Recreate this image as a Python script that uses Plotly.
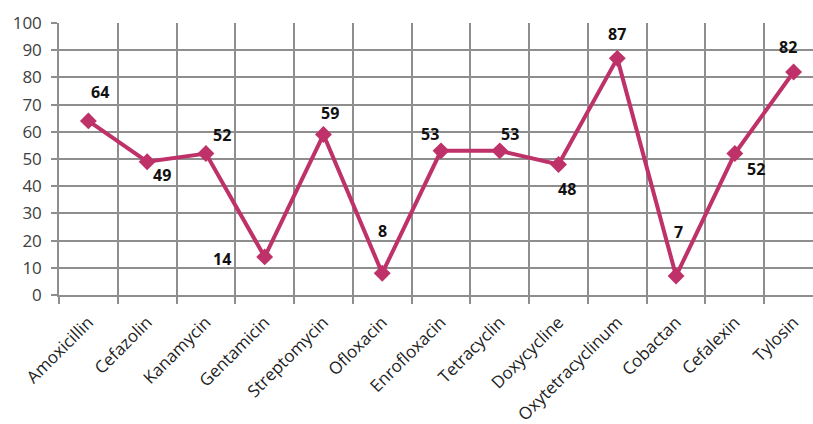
import plotly.graph_objects as go

# Antibiotic names and values (%)
drugs = ["Amoxicillin", "Cefazolin", "Kanamycin", "Gentamicin", "Streptomycin",
         "Ofloxacin", "Enrofloxacin", "Tetracyclin", "Doxycycline",
         "Oxytetracyclinum", "Cobactan", "Cefalexin", "Tylosin"]
values = [64, 49, 52, 14, 59, 8, 53, 53, 48, 87, 7, 52, 82]

# Pixel offsets for each value label relative to its marker
label_dx = [12, 15, 16, -43, 7, 0, -11, 10, 8, 0, 2, 21, -6]
label_dy = [29, -13, 19, -2, 22, 42, 17, 17, -25, 24, 44, -15, 25]

y_ticks = list(range(0, 101, 10))

line_color = "#BE3169"
grid_color = "#8E8E8E"
text_color = "#404040"

fig = go.Figure()
fig.add_trace(go.Scatter(
    x=drugs, y=values, mode="lines+markers",
    line=dict(color=line_color, width=4),
    marker=dict(symbol="diamond", size=13, color=line_color),
    hoverinfo="x+y", showlegend=False,
))

for name, v, dx, dy in zip(drugs, values, label_dx, label_dy):
    fig.add_annotation(
        x=name, y=v, text=f"<b>{v}</b>", showarrow=False,
        xshift=dx, yshift=dy,
        font=dict(family="Open Sans", size=16, color="#111111"),
    )

fig.update_xaxes(
    type="category", categoryorder="array", categoryarray=drugs,
    range=[-0.5, 12.33], tickson="boundaries",
    showgrid=True, gridcolor=grid_color, gridwidth=1.5,
    showline=True, linecolor=grid_color, linewidth=1.5,
    ticks="outside", ticklen=7, tickcolor=grid_color, tickwidth=1.5,
    ticklabelstandoff=9,
    tickangle=-45, tickfont=dict(family="Open Sans", size=17, color="#222222"),
    fixedrange=True,
)
fig.update_yaxes(
    range=[0, 100], tickvals=y_ticks, ticktext=[str(t) for t in y_ticks],
    showgrid=True, gridcolor=grid_color, gridwidth=1.5, zeroline=False,
    showline=True, linecolor=grid_color, linewidth=1.5,
    ticks="outside", ticklen=6, tickcolor=grid_color, tickwidth=1.5,
    ticklabelstandoff=6,
    tickfont=dict(family="Open Sans", size=17, color=text_color),
    fixedrange=True,
)

fig.update_layout(
    width=813, height=424,
    margin=dict(l=59, r=0, t=23, b=129),
    paper_bgcolor="white", plot_bgcolor="white",
)

fig.write_html("out.html", config={"displayModeBar": False})
